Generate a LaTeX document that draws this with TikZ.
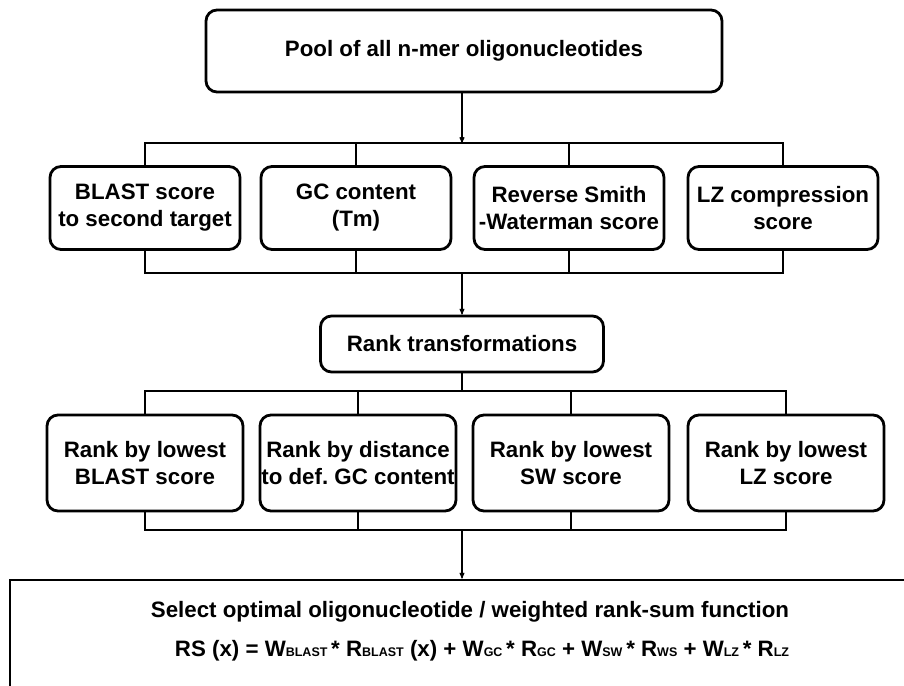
\documentclass[tikz,border=0pt]{standalone}
\usepackage{fontspec}
\setmainfont{Liberation Sans}
\usetikzlibrary{arrows,positioning}
\tikzset{>=stealth',
  box/.style={draw,rounded corners=11pt,line width=2.8pt,align=center,inner sep=1pt,
    font=\bfseries\fontsize{22.3}{27}\selectfont},
  score/.style={box,minimum width=190pt,minimum height=83pt},
  rankbox/.style={box,minimum width=196pt,minimum height=96pt},
  bus/.style={line width=2.8pt},
  flow/.style={->,line width=1.1pt}}
\newcommand{\rsidx}[1]{{\fontsize{12.5}{13}\selectfont #1}}
\frenchspacing

\begin{document}
\begin{tikzpicture}[x=1pt,y=-1pt]
  \useasboundingbox[fill=white] (0,0) rectangle (904,685);

  \node[box,minimum width=516pt,minimum height=82pt] (pool) at (464,51) {Pool of all n-mer oligonucleotides};

  \node[score] (s1) at (145,208) {BLAST score\\to second target};
  \node[score] (s2) at (356,208) {GC content\\(Tm)};
  \node[score] (s3) at (569,208) {Reverse Smith\\-Waterman score};
  \node[score] (s4) at (783,208) {LZ compression\\score};

  \node[box,minimum width=283pt,minimum height=56pt] (rank) at (462,344) {Rank transformations};

  \node[rankbox] (r1) at (145,463) {Rank by lowest\\BLAST score};
  \node[rankbox] (r2) at (358,463) {Rank by distance\\to def. GC content};
  \node[rankbox] (r3) at (571,463) {Rank by lowest\\SW score};
  \node[rankbox] (r4) at (786,463) {Rank by lowest\\LZ score};

  \node[draw,line width=2.8pt,minimum width=905pt,minimum height=130pt] (frame) at (462.5,645) {};
  \node[font=\bfseries\fontsize{22.3}{27}\selectfont] (sel) at (470,612) {Select optimal oligonucleotide / weighted rank-sum function};
  \node[font=\bfseries\fontsize{22.3}{27}\selectfont] (rs) at (482,651)
    {RS (x) = W\rsidx{BLAST}\,* R\rsidx{BLAST} (x) + W\rsidx{GC}\,* R\rsidx{GC} + W\rsidx{SW}\,* R\rsidx{WS} + W\rsidx{LZ}\,* R\rsidx{LZ}};

  \coordinate (bus1) at (462,143);
  \coordinate (bus2) at (462,273);
  \coordinate (bus3) at (462,391);
  \coordinate (bus4) at (462,530);

  % scores
  \draw[flow] (pool.south -| bus1) -- (bus1);
  \draw[bus] (s1.north) |- (bus1) -| (s4.north);
  \draw[bus] (s2.north) -- (s2.north |- bus1);
  \draw[bus] (s3.north) -- (s3.north |- bus1);
  \draw[bus] (s1.south) |- (bus2) -| (s4.south);
  \draw[bus] (s2.south) -- (s2.south |- bus2);
  \draw[bus] (s3.south) -- (s3.south |- bus2);
  \draw[flow] (bus2) -- (rank.north -| bus2);

  % ranks
  \draw[bus] (rank.south -| bus3) -- (bus3);
  \draw[bus] (r1.north) |- (bus3) -| (r4.north);
  \draw[bus] (r2.north) -- (r2.north |- bus3);
  \draw[bus] (r3.north) -- (r3.north |- bus3);
  \draw[bus] (r1.south) |- (bus4) -| (r4.south);
  \draw[bus] (r2.south) -- (r2.south |- bus4);
  \draw[bus] (r3.south) -- (r3.south |- bus4);
  \draw[flow] (bus4) -- (frame.north -| bus4);
\end{tikzpicture}
\end{document}
